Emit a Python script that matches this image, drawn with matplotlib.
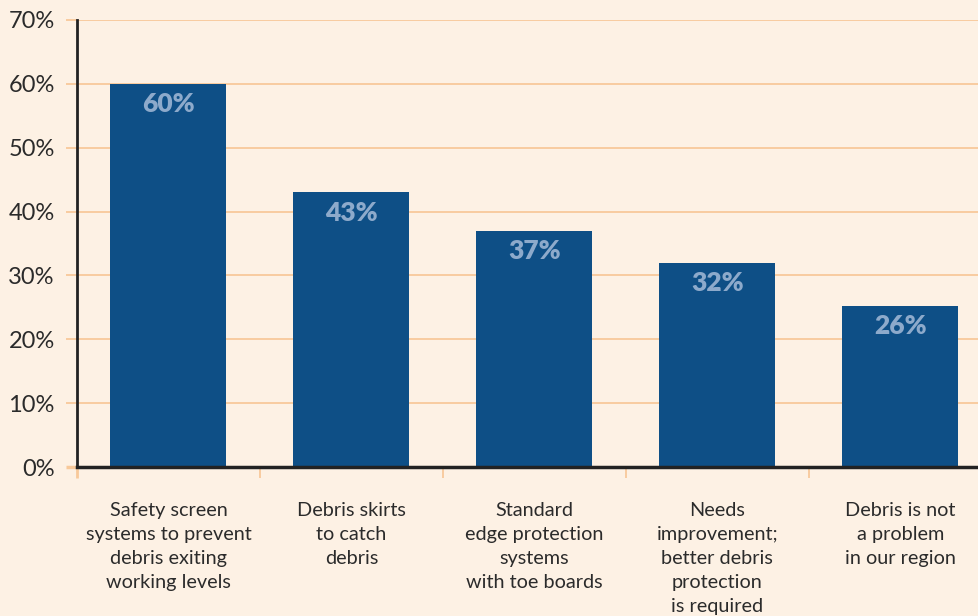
import matplotlib
matplotlib.use("Agg")
import matplotlib.pyplot as plt
import numpy as np

# chart data
categories = [
    "Safety screen\nsystems to prevent\ndebris exiting\nworking levels",
    "Debris skirts\nto catch\ndebris",
    "Standard\nedge protection\nsystems\nwith toe boards",
    "Needs\nimprovement;\nbetter debris\nprotection\nis required",
    "Debris is not\na problem\nin our region",
]
values = [60, 43, 37, 32, 25.2]
value_labels = ["60%", "43%", "37%", "32%", "26%"]
y_ticks = [0, 10, 20, 30, 40, 50, 60, 70]

bg = "#FDF1E4"
bar_color = "#0E4F86"
grid_color = "#F8C99A"
text_color = "#2B2B2B"
label_color = "#8DAACB"

plt.rcParams["font.family"] = ["Lato", "DejaVu Sans"]

fig = plt.figure(figsize=(9.79, 6.16), dpi=100, facecolor=bg)
ax = fig.add_axes([77 / 979, 1 - 467 / 616, 1 - 77 / 979, (467 - 20) / 616])
ax.set_facecolor(bg)

x = np.arange(len(categories))
ax.bar(x, values, width=0.634, color=bar_color, zorder=3)

for xi, v, lab in zip(x, values, value_labels):
    ax.annotate(lab, (xi, v), xytext=(0, -14.5), textcoords="offset points",
                ha="center", va="center", fontsize=19, fontweight="heavy",
                color=label_color, zorder=4)

ax.set_ylim(0, 70)
ax.set_xlim(-0.5, 4.43)
ax.set_yticks(y_ticks)
ax.set_yticklabels([f"{t}%" for t in y_ticks], fontsize=17, color=text_color)
ax.yaxis.grid(True, color=grid_color, linewidth=1.3, zorder=0)
ax.tick_params(axis="y", length=8, width=1.3, color=grid_color, pad=8)
ax.yaxis.get_major_ticks()[0].tick1line.set_color("#222222")
ax.yaxis.get_major_ticks()[0].tick1line.set_markeredgewidth(2.5)

ax.set_xticks(x)
ax.set_xticklabels(categories, fontsize=14.3, color=text_color, linespacing=1.51)
ax.tick_params(axis="x", length=0, pad=25)
ax.set_xticks([-0.5, 0.5, 1.5, 2.5, 3.5], minor=True)
ax.tick_params(axis="x", which="minor", length=8, width=1.3, color=grid_color)
ax.xaxis.get_minor_ticks()[0].tick1line.set_color("#222222")
ax.xaxis.get_minor_ticks()[0].tick1line.set_markeredgewidth(2)

for s in ["top", "right"]:
    ax.spines[s].set_visible(False)
ax.spines["left"].set_color("#222222")
ax.spines["left"].set_linewidth(2)
ax.spines["bottom"].set_color("#222222")
ax.spines["bottom"].set_linewidth(2.5)
ax.spines["bottom"].set_zorder(5)

fig.savefig("out.png", dpi=100, facecolor=bg)
